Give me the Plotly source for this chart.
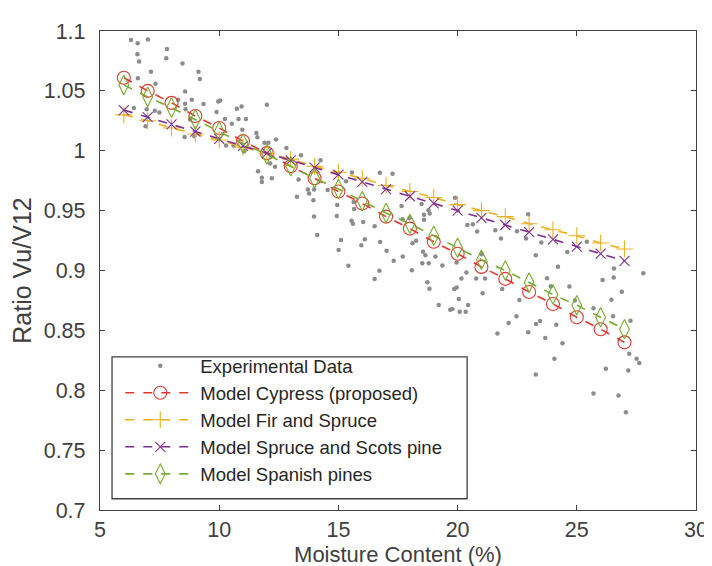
import plotly.graph_objects as go

# ---------------- data ----------------
exp_mc = [6.30, 6.58, 7.01, 6.57, 6.64, 7.81, 7.78, 8.46, 7.14, 9.13, 9.19, 6.59, 8.57, 7.33, 8.28,
          8.57, 8.85, 9.34, 9.96, 10.04, 6.42, 6.96, 7.30, 6.91, 7.49, 8.59, 8.78, 8.55, 8.96, 9.89,
          10.24, 10.29, 10.60, 10.53, 10.74, 10.94, 10.81, 11.12, 10.97, 12.00, 11.56, 11.60, 12.38,
          11.05, 11.90, 12.06, 12.82, 13.43, 14.25, 11.63, 11.79, 11.79, 12.21, 12.14, 12.34, 13.33,
          13.72, 13.77, 13.98, 14.55, 13.26, 13.95, 13.98, 14.11, 14.95, 14.93, 15.11, 15.01, 15.42,
          15.57, 15.32, 15.64, 15.66, 15.55, 15.61, 16.04, 16.52, 16.11, 15.96, 16.75, 17.02, 17.32,
          17.70, 16.72, 16.52, 16.74, 17.27, 17.65, 17.69, 17.98, 18.08, 18.11, 18.26, 18.49, 18.59,
          18.59, 18.78, 18.83, 18.55, 18.65, 18.52, 18.79, 19.07, 19.36, 18.73, 18.82, 19.21, 19.69,
          19.89, 20.41, 20.64, 20.82, 21.58, 21.82, 22.49, 22.87, 22.96, 23.51, 23.28, 24.21, 21.01,
          19.96, 20.37, 20.16, 20.78, 21.15, 21.87, 19.86, 19.96, 21.05, 20.05, 20.44, 19.78, 20.09,
          20.34, 23.75, 23.91, 22.59, 22.47, 22.14, 21.67, 22.96, 23.29, 23.46, 23.68, 24.14, 24.06,
          23.28, 24.40, 25.42, 24.60, 26.56, 26.55, 26.08, 27.79, 24.69, 26.89, 26.45, 24.92, 25.70,
          26.52, 27.25, 27.20, 27.51, 27.62, 26.22, 27.16, 25.70, 26.75, 27.06]
exp_ratio = [1.0925, 1.0898, 1.0929, 1.0806, 1.0745, 1.0850, 1.0773, 1.0728, 1.0659, 1.0659, 1.0599,
             1.0605, 1.0495, 1.0559, 1.0426, 1.0393, 1.0426, 1.0391, 1.0412, 1.0420, 1.0357, 1.0347,
             1.0334, 1.0204, 1.0320, 1.0347, 1.0260, 1.0114, 1.0121, 1.0324, 1.0265, 1.0043, 1.0043,
             1.0226, 1.0351, 1.0370, 1.0265, 1.0265, 1.0176, 1.0384, 1.0149, 1.0112, 1.0093, 0.9996,
             1.0066, 1.0066, 1.0024, 0.9962, 0.9921, 0.9829, 0.9774, 0.9740, 0.9771, 0.9893, 0.9866,
             0.9760, 0.9677, 0.9642, 0.9677, 0.9673, 0.9615, 0.9587, 0.9450, 0.9297, 0.9547, 0.9455,
             0.9255, 0.9172, 0.9039, 0.9819, 0.9746, 0.9571, 0.9513, 0.9415, 0.9390, 0.9405, 0.9369,
             0.9261, 0.9211, 0.9239, 0.9164, 0.9081, 0.9117, 0.8997, 0.8928, 0.9816, 0.9808, 0.9538,
             0.9428, 0.9436, 0.9002, 0.9228, 0.9249, 0.9556, 0.9465, 0.9423, 0.9504, 0.9477, 0.9157,
             0.9128, 0.9061, 0.9061, 0.9117, 0.9042, 0.8901, 0.8848, 0.8712, 0.8673, 0.9608, 0.9379,
             0.9386, 0.9325, 0.9336, 0.9267, 0.9328, 0.9268, 0.9469, 0.9234, 0.9128, 0.9032, 0.9136,
             0.9067, 0.8984, 0.8934, 0.8934, 0.8934, 0.8845, 0.8845, 0.8859, 0.8809, 0.8762, 0.8712,
             0.8679, 0.8656, 0.8656, 0.8935, 0.8868, 0.8754, 0.8618, 0.8562, 0.8473, 0.8485, 0.8554,
             0.8579, 0.8437, 0.8546, 0.8263, 0.8132, 0.8393, 0.9240, 0.9155, 0.9017, 0.8942, 0.8920,
             0.8976, 0.8866, 0.8823, 0.8755, 0.8749, 0.8685, 0.8618, 0.8581, 0.8304, 0.8263, 0.8227,
             0.8180, 0.8165, 0.7972, 0.7957, 0.7816]

model_mc = [6, 7, 8, 9, 10, 11, 12, 13, 14, 15, 16, 17, 18, 19, 20, 21, 22, 23, 24, 25, 26, 27]
cypress = [1.061, 1.050, 1.040, 1.029, 1.019, 1.008, 0.998, 0.987, 0.977, 0.966, 0.956,
           0.945, 0.935, 0.924, 0.914, 0.903, 0.893, 0.882, 0.872, 0.861, 0.851, 0.840]
fir_spruce = [1.030, 1.025, 1.019, 1.014, 1.009, 1.003, 0.998, 0.993, 0.987, 0.982, 0.977,
              0.971, 0.966, 0.961, 0.955, 0.950, 0.945, 0.939, 0.934, 0.929, 0.923, 0.918]
spruce_scots = [1.034, 1.028, 1.022, 1.016, 1.010, 1.004, 0.998, 0.992, 0.986, 0.980, 0.974,
                0.968, 0.962, 0.956, 0.950, 0.944, 0.938, 0.932, 0.926, 0.920, 0.914, 0.908]
spanish = [1.055, 1.045, 1.036, 1.026, 1.016, 1.006, 0.997, 0.987, 0.977, 0.968, 0.958,
           0.948, 0.939, 0.929, 0.919, 0.909, 0.900, 0.890, 0.880, 0.871, 0.861, 0.851]

x_ticks = [5, 10, 15, 20, 25, 30]
y_ticks = [0.7, 0.75, 0.8, 0.85, 0.9, 0.95, 1.0, 1.05, 1.1]
y_tick_labels = ["0.7", "0.75", "0.8", "0.85", "0.9", "0.95", "1", "1.05", "1.1"]

# ---------------- figure ----------------
FONT = "Liberation Sans, Arial, sans-serif"
TXT = "#404040"

fig = go.Figure()
fig.add_trace(go.Scatter(x=exp_mc, y=exp_ratio, mode="markers", name="Experimental Data",
                         marker=dict(size=4.5, color="#8c8c8c")))

models = [
    ("Model Cypress (proposed)", cypress, "#E2382F", "circle-open", 13),
    ("Model Fir and Spruce", fir_spruce, "#EDB120", "cross-thin-open", 12),
    ("Model Spruce and Scots pine", spruce_scots, "#7E2F8E", "x-thin-open", 10),
    ("Model Spanish pines", spanish, "#77AC30", "diamond-tall-open", 14),
]
for name, vals, col, sym, sz in models:
    fig.add_trace(go.Scatter(
        x=model_mc, y=vals, mode="lines+markers", name=name,
        line=dict(color=col, width=1.6, dash="dash"),
        marker=dict(symbol=sym, size=sz, color=col, line=dict(color=col, width=1.1)),
    ))

axis_common = dict(
    showgrid=False, zeroline=False, showline=True, linecolor="#404040", linewidth=1.3,
    mirror="ticks", ticks="inside", ticklen=5, tickwidth=1.2, tickcolor="#404040",
    tickfont=dict(family=FONT, size=21.5, color=TXT),
)
fig.update_xaxes(range=[5, 30], tickvals=x_ticks,
                 title=dict(text="Moisture Content (%)", font=dict(family=FONT, size=22, color=TXT),
                            standoff=0),
                 **axis_common)
fig.update_yaxes(range=[0.7, 1.1], tickvals=y_ticks, ticktext=y_tick_labels,
                 ticklabelstandoff=9,
                 title=dict(text="Ratio Vu/V12", font=dict(family=FONT, size=25, color=TXT),
                            standoff=6),
                 **axis_common)

# legend frame (MATLAB-style box with padding)
fig.add_shape(type="rect", xref="paper", yref="paper",
              x0=0.0202, x1=0.616, y0=0.0235, y1=0.3195,
              fillcolor="white", line=dict(color="#404040", width=1.3), layer="above")

fig.update_layout(
    width=712, height=566,
    margin=dict(l=90, r=12, t=21, b=64),
    paper_bgcolor="white", plot_bgcolor="white",
    font=dict(family=FONT, color=TXT),
    legend=dict(x=0.034, y=0.340, xanchor="left", yanchor="top",
                bgcolor="rgba(0,0,0,0)", borderwidth=0,
                font=dict(family=FONT, size=18.5, color="#262626"),
                itemwidth=70, tracegroupgap=0),
    showlegend=True,
)

fig.write_html("out.html")
